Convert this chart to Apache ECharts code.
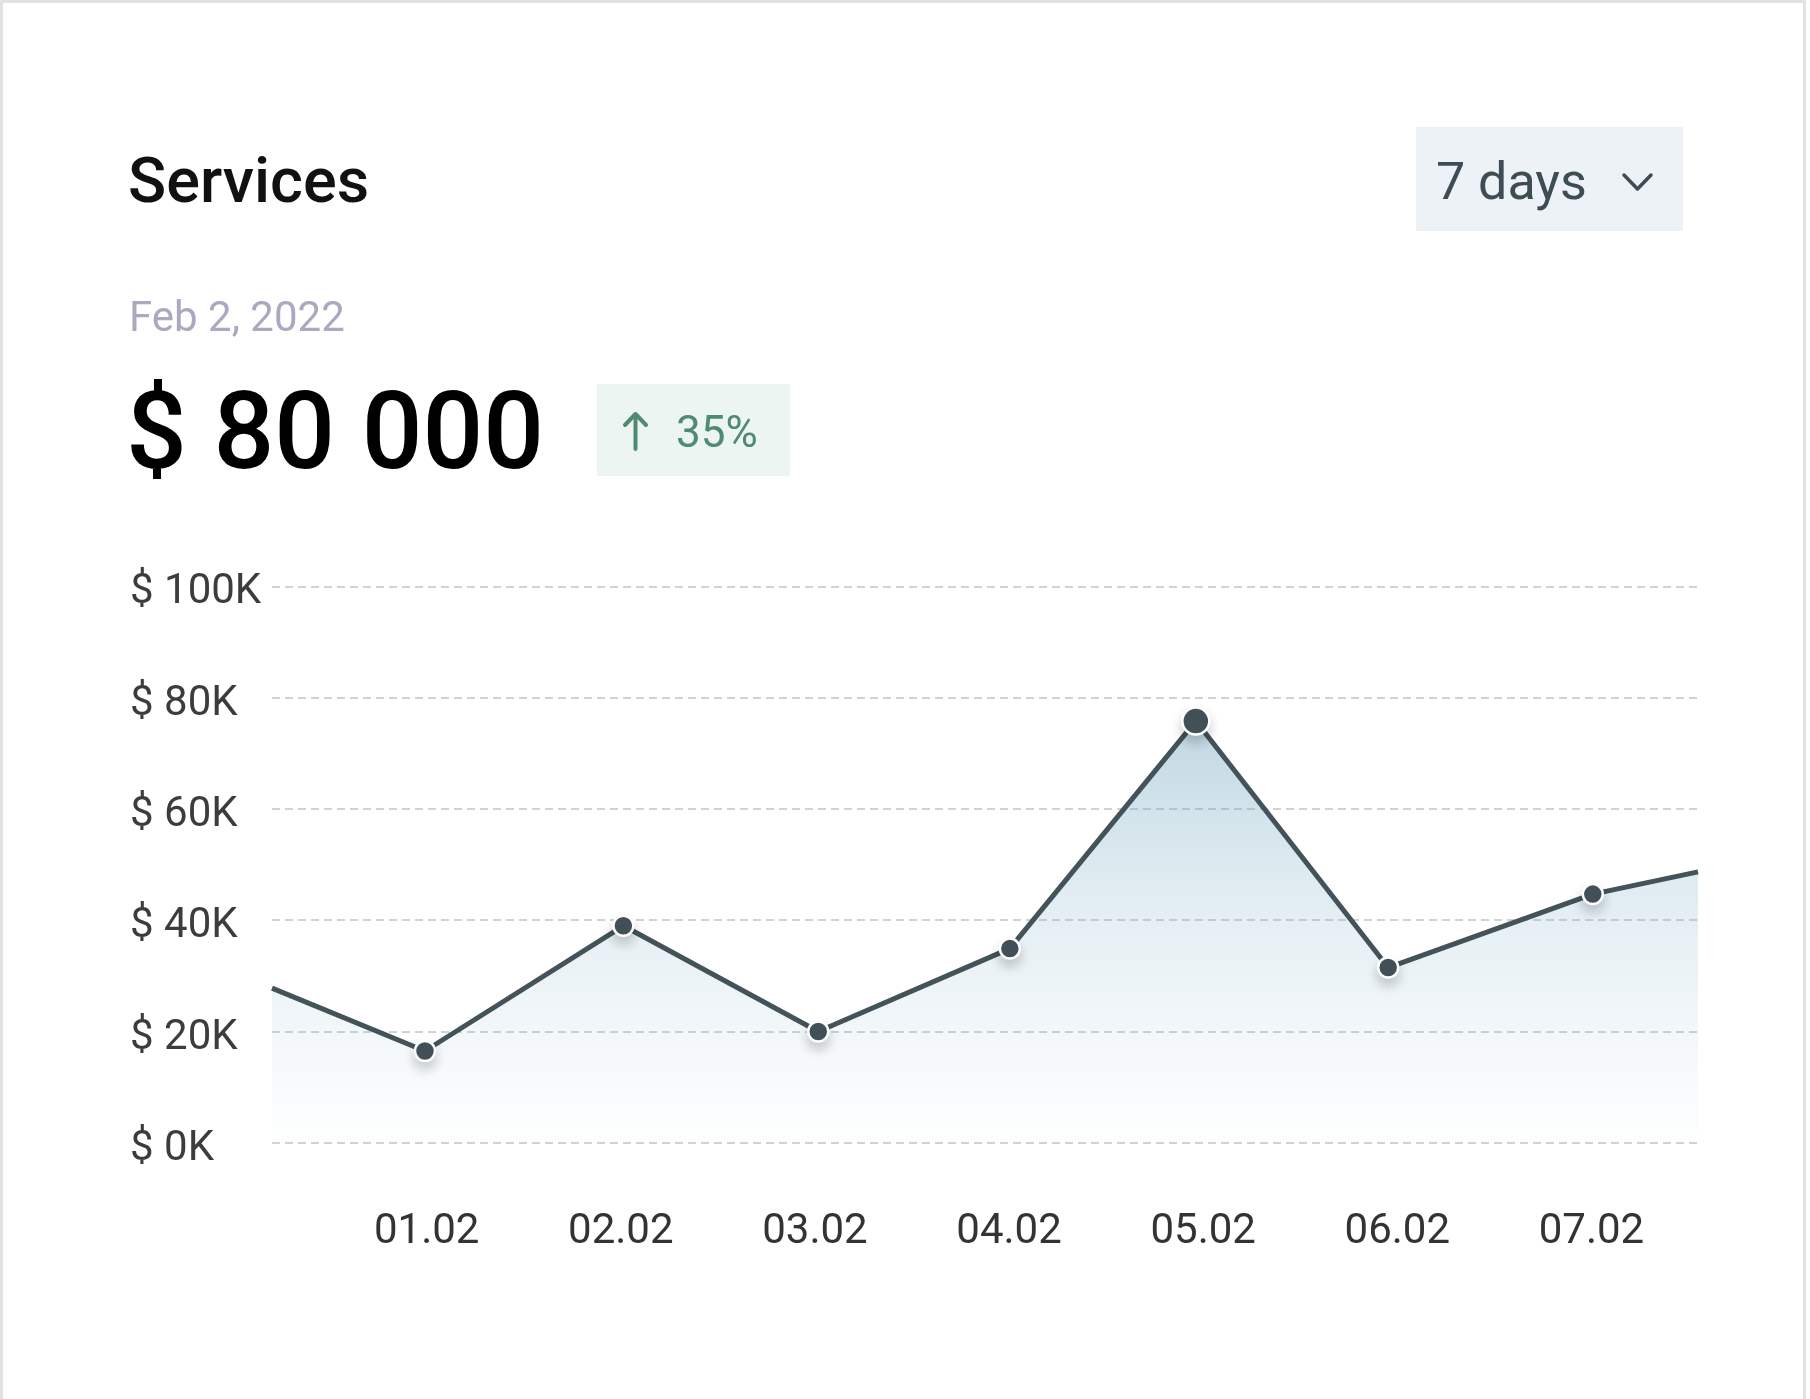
<!DOCTYPE html>
<html>
<head>
<meta charset="utf-8">
<title>Services</title>
<script src="https://cdn.jsdelivr.net/npm/echarts@6/dist/echarts.min.js"></script>
<style>
  html, body { margin: 0; padding: 0; background: #ffffff; }
  #chart { width: 1810px; height: 1399px; }
</style>
</head>
<body>
<div id="chart"></div>
<script>
// Daily revenue for the "Services" card (x = day of February, y = dollars).
// The first and last entries are where the line leaves the plot edges.
const dayPos  = [0.203, 0.991, 2.013, 3.017, 4.004, 4.962, 5.953, 7.007, 7.549];
const revenue = [27800, 16500, 39000, 20000, 34900, 75800, 31500, 44700, 48700];
const markerShown = [false, true, true, true, true, true, true, true, false];
const highlightDay = 5;           // 05.02 gets the larger marker

const dayTicks  = [1, 2, 3, 4, 5, 6, 7];
const dayLabels = ['01.02', '02.02', '03.02', '04.02', '05.02', '06.02', '07.02'];

const headerTitle = 'Services';
const headerDate  = 'Feb 2, 2022';
const headerTotal = '$ 80 000';
const headerDelta = '35%';
const rangeLabel  = '7 days';

const FONT = 'Roboto, "Noto Sans", sans-serif';
const LINE_COLOR = '#44525a';

const seriesData = dayPos.map((x, i) => {
  const item = { value: [x, revenue[i]] };
  if (!markerShown[i]) {
    item.symbol = 'none';
  } else if (Math.round(x) === highlightDay) {
    item.symbolSize = 27;
  }
  return item;
});

const chart = echarts.init(document.getElementById('chart'), null, { renderer: 'canvas' });

chart.setOption({
  backgroundColor: '#ffffff',
  animation: false,
  grid: { left: 272, right: 112, top: 586.4, bottom: 256.2, containLabel: false },
  xAxis: {
    type: 'value',
    min: dayPos[0],
    max: dayPos[dayPos.length - 1],
    axisLine: { show: false },
    axisTick: { show: false },
    splitLine: { show: false },
    axisLabel: {
      customValues: dayTicks,
      formatter: v => dayLabels[dayTicks.indexOf(Math.round(v))] || '',
      fontFamily: FONT,
      fontSize: 42,
      color: '#333333',
      margin: 90,
      verticalAlign: 'middle'
    }
  },
  yAxis: {
    type: 'value',
    min: 0,
    max: 100000,
    interval: 20000,
    axisLine: { show: false },
    axisTick: { show: false },
    axisLabel: {
      // labels sit a little below their grid line
      formatter: v => '{v|$ ' + (v / 1000) + 'K}',
      rich: {
        v: { fontFamily: FONT, fontSize: 42, color: '#3c3c3c', padding: [13, 0, 0, 0] }
      },
      align: 'left',
      verticalAlign: 'middle',
      margin: 142
    },
    splitLine: {
      show: true,
      lineStyle: { color: '#d2d2d2', width: 2, type: [8, 5] }
    }
  },
  series: [{
    type: 'line',
    data: seriesData,
    symbol: 'circle',
    symbolSize: 20,
    showAllSymbol: true,
    lineStyle: { color: LINE_COLOR, width: 5 },
    itemStyle: {
      color: LINE_COLOR,
      borderColor: '#ffffff',
      borderWidth: 2.5,
      shadowColor: 'rgba(0, 0, 0, 0.18)',
      shadowBlur: 12,
      shadowOffsetY: 7
    },
    areaStyle: {
      color: new echarts.graphic.LinearGradient(0, 0, 0, 1, [
        { offset: 0, color: 'rgba(105, 160, 182, 0.6)' },
        { offset: 0.4, color: 'rgba(120, 172, 198, 0.32)' },
        { offset: 1, color: 'rgba(150, 190, 210, 0.02)' }
      ])
    },
    z: 3
  }],
  graphic: [
    // card outline
    {
      type: 'rect',
      shape: { x: 1.5, y: 1.5, width: 1803, height: 1440 },
      style: { fill: 'none', stroke: '#e2e2e2', lineWidth: 3 },
      silent: true, z: -10
    },
    // title
    {
      type: 'text', x: 128, y: 186,
      style: { text: headerTitle, fontFamily: FONT, fontSize: 63, fontWeight: 500, fill: '#111111', verticalAlign: 'middle' }
    },
    // period selector
    {
      type: 'rect',
      shape: { x: 1416, y: 127, width: 267, height: 104 },
      style: { fill: '#edf2f6' }
    },
    {
      type: 'text', x: 1436, y: 186,
      style: { text: rangeLabel, fontFamily: FONT, fontSize: 52, fill: '#3e4c53', verticalAlign: 'middle' }
    },
    {
      type: 'polyline',
      shape: { points: [[1624, 175], [1637.5, 189], [1651, 175]] },
      style: { stroke: '#3e4c53', lineWidth: 3.5, fill: 'none', lineCap: 'round', lineJoin: 'round' }
    },
    // date
    {
      type: 'text', x: 129, y: 320,
      style: { text: headerDate, fontFamily: FONT, fontSize: 42, fill: '#aaa9c0', verticalAlign: 'middle', letterSpacing: 0.6 }
    },
    // total
    {
      type: 'text', x: 126, y: 441,
      style: { text: headerTotal, fontFamily: FONT, fontSize: 107, fontWeight: 500, fill: '#000000', verticalAlign: 'middle' }
    },
    // change badge
    {
      type: 'rect',
      shape: { x: 597, y: 384, width: 193, height: 92 },
      style: { fill: '#ecf5f2' }
    },
    {
      type: 'line',
      shape: { x1: 635.5, y1: 449, x2: 635.5, y2: 415 },
      style: { stroke: '#4f8a73', lineWidth: 4, lineCap: 'round' }
    },
    {
      type: 'polyline',
      shape: { points: [[625, 425], [635.5, 414], [646, 425]] },
      style: { stroke: '#4f8a73', lineWidth: 4, fill: 'none', lineCap: 'round', lineJoin: 'round' }
    },
    {
      type: 'text', x: 676, y: 436,
      style: { text: headerDelta, fontFamily: FONT, fontSize: 44, fill: '#4f8a73', verticalAlign: 'middle' }
    }
  ]
});
</script>
</body>
</html>
